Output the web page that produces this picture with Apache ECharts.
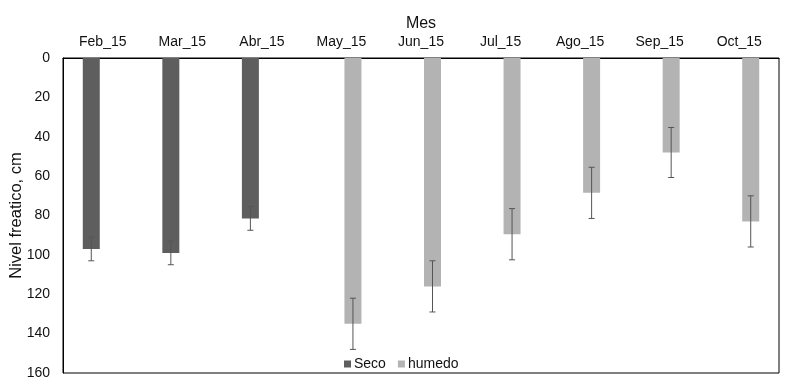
<!DOCTYPE html>
<html>
<head>
<meta charset="utf-8">
<script src="https://cdn.jsdelivr.net/npm/echarts@6/dist/echarts.min.js"></script>
<style>
  html, body { margin: 0; padding: 0; background: #fff; }
  #chart { width: 791px; height: 389px; }
</style>
</head>
<body>
<div id="chart"></div>
<script>
// meses y valores (nivel freatico, cm)
const meses = ["Feb_15", "Mar_15", "Abr_15", "May_15", "Jun_15", "Jul_15", "Ago_15", "Sep_15", "Oct_15"];
const seco = [97, 99, 81.5, null, null, null, null, null, null];
const secoErr = [6, 6, 6, null, null, null, null, null, null];
const humedo = [null, null, null, 135, 116, 89.5, 68.5, 48, 83];
const humedoErr = [null, null, null, 13, 13, 13, 13, 12.7, 13];
const yTicks = [0, 20, 40, 60, 80, 100, 120, 140, 160];

const BAR_W = 17;
const BAR_GAP = 6;

function errData(vals, errs) {
  const out = [];
  vals.forEach(function (v, i) {
    if (v != null) out.push([i, v, errs[i]]);
  });
  return out;
}

function errRender(offset) {
  return function (params, api) {
    const i = api.value(0);
    const v = api.value(1);
    const e = api.value(2);
    const top = api.coord([i, v - e]);
    const bot = api.coord([i, v + e]);
    const x = top[0] + offset;
    const style = { stroke: "#555", lineWidth: 1 };
    return {
      type: "group",
      children: [
        { type: "line", shape: { x1: x, y1: top[1], x2: x, y2: bot[1] }, style: style },
        { type: "line", shape: { x1: x - 3, y1: top[1], x2: x + 3, y2: top[1] }, style: style },
        { type: "line", shape: { x1: x - 3, y1: bot[1], x2: x + 3, y2: bot[1] }, style: style }
      ]
    };
  };
}

const myChart = echarts.init(document.getElementById("chart"));
const off = (BAR_W + BAR_GAP) / 2;

myChart.setOption({
  animation: false,
  textStyle: { fontFamily: "Liberation Sans, Arial, sans-serif" },
  grid: {
    left: 63, right: 12, top: 58, bottom: 16,
    outerBoundsMode: "none",
    show: true, borderColor: "#000", borderWidth: 1
  },
  legend: {
    data: ["Seco", "humedo"],
    left: 339, top: 352,
    icon: "rect", itemWidth: 7, itemHeight: 7, itemGap: 12,
    textStyle: { fontSize: 14, color: "#111", padding: [0, 0, 0, -2] }
  },
  xAxis: {
    type: "category",
    data: meses,
    position: "top",
    name: "Mes",
    nameLocation: "middle",
    nameGap: 26,
    nameMoveOverlap: false,
    nameTextStyle: { fontSize: 16, color: "#111" },
    axisLine: { show: true, lineStyle: { color: "#000" } },
    axisTick: { show: false },
    axisLabel: { fontSize: 14, color: "#111", margin: 9 }
  },
  yAxis: {
    type: "value",
    inverse: true,
    min: yTicks[0],
    max: yTicks[yTicks.length - 1],
    interval: 20,
    name: "Nivel freatico, cm",
    nameLocation: "middle",
    nameGap: 38,
    nameMoveOverlap: false,
    nameTextStyle: { fontSize: 16.5, color: "#111" },
    axisLine: { show: true, lineStyle: { color: "#000" } },
    axisTick: { show: false },
    splitLine: { show: false },
    axisLabel: { fontSize: 14, color: "#111", margin: 13 }
  },
  series: [
    {
      name: "Seco", type: "bar", data: seco,
      barWidth: BAR_W, barGap: (BAR_GAP / BAR_W * 100) + "%",
      itemStyle: { color: "#5e5e5e" }
    },
    {
      name: "humedo", type: "bar", data: humedo,
      barWidth: BAR_W,
      itemStyle: { color: "#b3b3b3" }
    },
    {
      type: "custom", data: errData(seco, secoErr),
      renderItem: errRender(-off), z: 5
    },
    {
      type: "custom", data: errData(humedo, humedoErr),
      renderItem: errRender(off), z: 5
    }
  ]
});

window.addEventListener("resize", function () { myChart.resize(); });
</script>
</body>
</html>
